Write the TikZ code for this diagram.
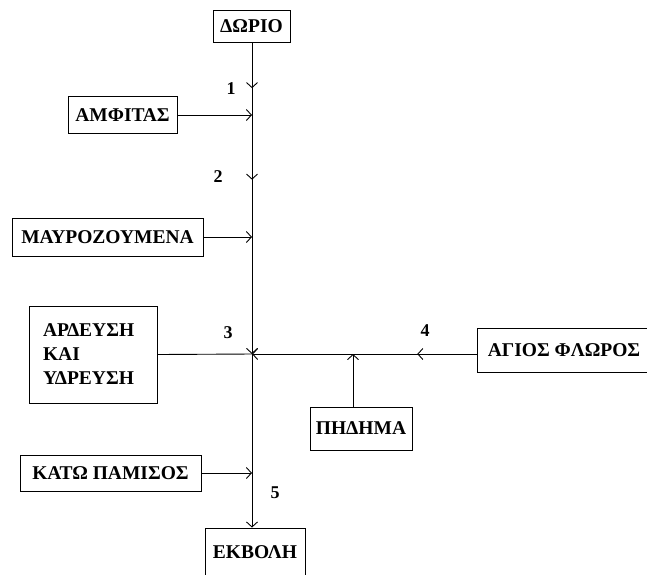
\documentclass[tikz,border=0pt]{standalone}
\usepackage{fontspec}
\setmainfont{Liberation Serif}
\usetikzlibrary{arrows.meta,decorations.markings}
\begin{document}
\begin{tikzpicture}[x=1pt, y=-1pt, line width=0.9pt,
    >={Straight Barb[length=5pt,width=11pt]},
    box/.style={draw, inner sep=0pt, font=\fontsize{19.5}{24}\selectfont\bfseries},
    num/.style={font=\fontsize{18}{18}\selectfont\bfseries},
    midarrow/.style={postaction={decorate},
      decoration={markings, mark=at position #1 with {\arrow{>}}}}]
  \useasboundingbox (0,0) rectangle (647,574);
  % boxes
  \node[box, minimum width=77pt, minimum height=32pt] (dorio) at (251.5,26) {ΔΩΡΙΟ};
  \node[box, minimum width=109pt, minimum height=37pt] (amfitas) at (122.5,115) {ΑΜΦΙΤΑΣ};
  \node[box, minimum width=191pt, minimum height=38pt] (mavro) at (107.5,237) {ΜΑΥΡΟΖΟΥΜΕΝΑ};
  \node[box, minimum width=128pt, minimum height=97pt, align=left,
    text width=100pt] (ardeusi) at (93,354.5) {ΑΡΔΕΥΣΗ\\ΚΑΙ\\ΥΔΡΕΥΣΗ};
  \node[box, minimum width=174pt, minimum height=44pt] (agios) at (564,350) {ΑΓΙΟΣ ΦΛΩΡΟΣ};
  \node[box, minimum width=102pt, minimum height=43pt] (pidima) at (361,428.5) {ΠΗΔΗΜΑ};
  \node[box, minimum width=181pt, minimum height=36pt] (kato) at (110.5,473) {ΚΑΤΩ ΠΑΜΙΣΟΣ};
  \node[box, minimum width=100pt, minimum height=48pt] (ekvoli) at (255,552) {ΕΚΒΟΛΗ};
  % junctions
  \coordinate (j1) at (252,115);
  \coordinate (j2) at (252,237);
  \coordinate (j3) at (252,354);
  \coordinate (j4) at (353,354);
  \coordinate (j5) at (252,473);
  % main stream
  \draw[midarrow=0.63] (dorio.south -| j1) -- (j1);
  \draw[midarrow=0.53] (j1) -- (j2);
  \draw[->] (j2) -- (j3);
  \draw (j3) -- (j5);
  \draw[->] (j5) -- (ekvoli.north -| j5);
  % tributaries
  \draw[->] (amfitas.east) -- (j1);
  \draw[->] (mavro.east) -- (j2);
  \draw[->] (kato.east) -- (j5);
  \draw[midarrow=0.48] (agios.west |- j4) -- (j4);
  \draw[->] (j4) -- (j3);
  \draw[->] (pidima.north -| j4) -- (j4);
  \draw (ardeusi.east) -- (j3);
  % numbers
  \node[num] (n1) at (231,89) {1};
  \node[num] (n2) at (218,177) {2};
  \node[num] (n3) at (228,333) {3};
  \node[num] (n4) at (425,331) {4};
  \node[num] (n5) at (275,493) {5};
\end{tikzpicture}
\end{document}
